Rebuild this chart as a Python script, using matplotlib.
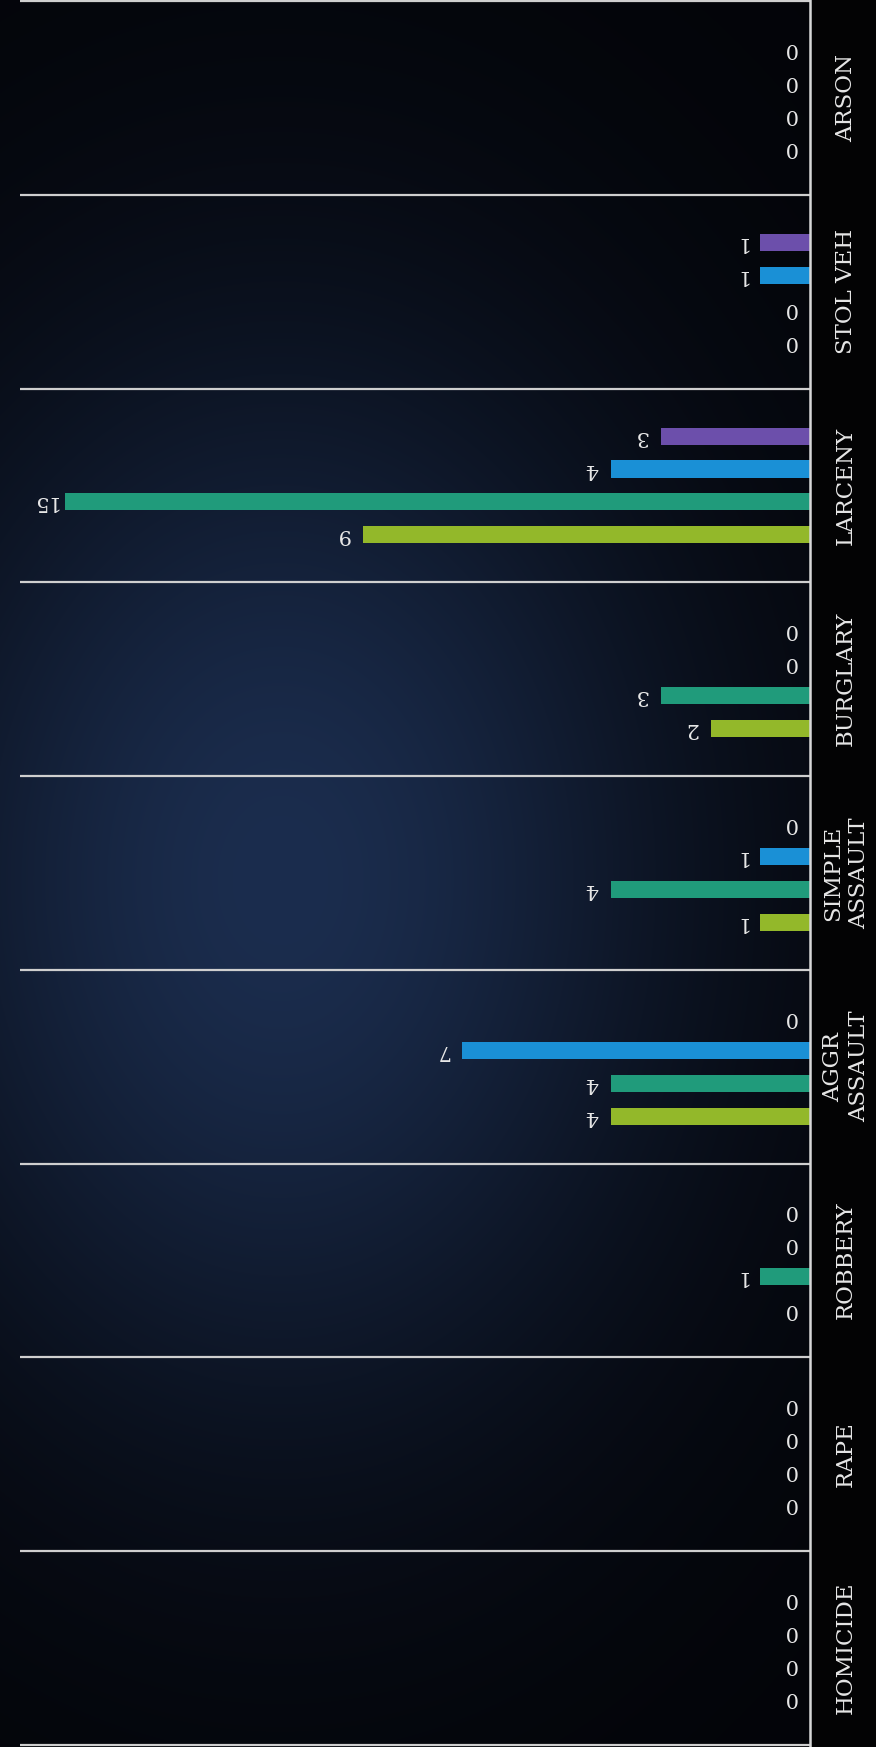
import numpy as np
import matplotlib
matplotlib.use('Agg')
import matplotlib.pyplot as plt

# Datos (de abajo hacia arriba en la imagen)
categorias = ['HOMICIDE', 'RAPE', 'ROBBERY', 'AGGR\nASSAULT', 'SIMPLE\nASSAULT',
              'BURGLARY', 'LARCENY', 'STOL VEH', 'ARSON']
serie_lima = [0, 0, 0, 4, 1, 2, 9, 0, 0]
serie_verde = [0, 0, 1, 4, 4, 3, 15, 0, 0]
serie_azul = [0, 0, 0, 7, 1, 0, 4, 1, 0]
serie_morada = [0, 0, 0, 0, 0, 0, 3, 1, 0]

series = [serie_lima, serie_verde, serie_azul, serie_morada]
colores = ['#93b82a', '#209b7b', '#1a90d6', '#6c4fab']

W, H = 876, 1747
fig = plt.figure(figsize=(W / 100, H / 100), dpi=100)

# Fondo oscuro con una mancha azulada
yy, xx = np.mgrid[0:H, 0:W]
g = np.exp(-(((xx - 280) / 400.0) ** 2 + ((yy - 880) / 540.0) ** 2))
base = np.array([3, 4, 8]) / 255.0
mancha = np.array([27, 45, 78]) / 255.0
fondo = base + g[..., None] * (mancha - base)
fondo[:, 812:] = np.array([3, 3, 4]) / 255.0
bg = fig.add_axes([0, 0, 1, 1], zorder=0)
bg.imshow(fondo, aspect='auto', extent=(0, W, H, 0))
bg.axis('off')

ax = fig.add_axes([0, 0, 1, 1], zorder=1)
ax.set_facecolor('none')
px = 49.7  # pixeles por unidad
ax.set_xlim(810 / px, -(W - 810) / px)
ax.set_ylim(-0.012, 9.006)
ax.axis('off')

n = len(categorias)
paso = 0.17
alto = 0.088
for k, (vals, col) in enumerate(zip(series, colores)):
    ys = [i + 0.5 - (1.5 - k) * paso for i in range(n)]
    ax.barh(ys, vals, height=alto, color=col, zorder=2)
    for y, v in zip(ys, vals):
        ax.text(v + 0.4, y, str(v), rotation=180, ha='center', va='center',
                color='#e8e8e8', fontsize=15, family='DejaVu Serif', zorder=3)

# Separadores y eje
for i in range(n + 1):
    ax.plot([15.9, 0], [i, i], color='#cfcfcf', lw=1.6, zorder=1,
            solid_capstyle='butt')
ax.plot([0, 0], [-0.012, 9.006], color='#d8d8d8', lw=1.8, zorder=4)

for i, c in enumerate(categorias):
    ax.text(-0.72, i + 0.5, c, rotation=90, ha='center', va='center',
            color='#e6e6e6', fontsize=16.5, family='DejaVu Serif',
            linespacing=1.25, multialignment='center')

fig.savefig('out.png', dpi=100, facecolor='black')
